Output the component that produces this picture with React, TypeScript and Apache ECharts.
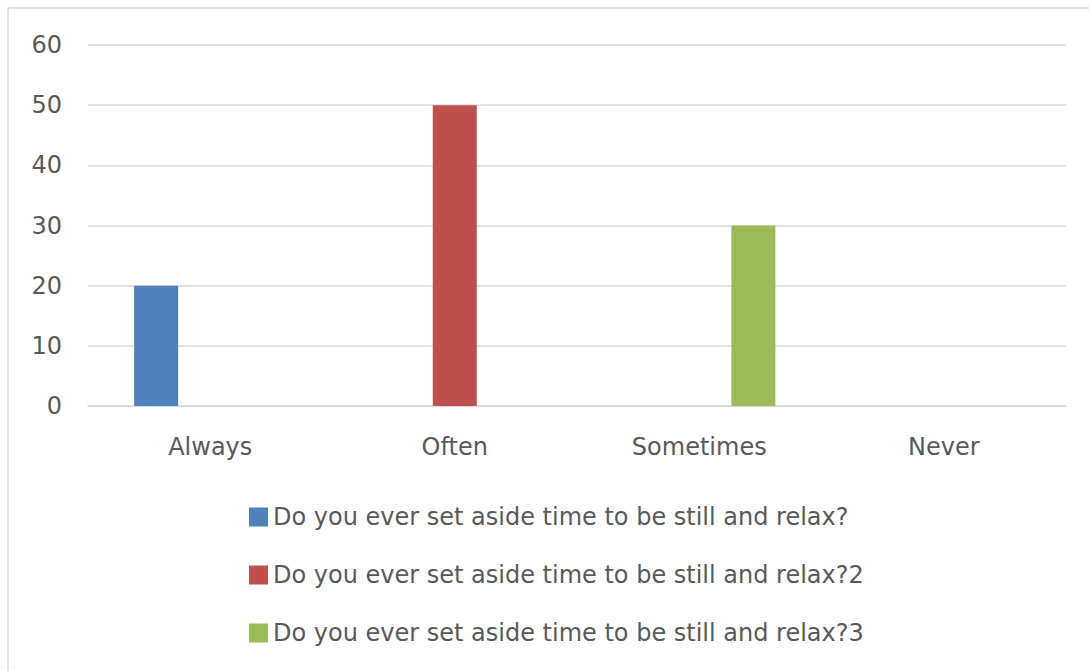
import React, { useEffect, useRef } from "react";
import * as echarts from "echarts";

const categories = ["Always", "Often", "Sometimes", "Never"];
const seriesNames = [
  "Do you ever set aside time to be still and relax?",
  "Do you ever set aside time to be still and relax?2",
  "Do you ever set aside time to be still and relax?3",
];
const series1 = [20, 0, 0, 0];
const series2 = [0, 50, 0, 0];
const series3 = [0, 0, 30, 0];
const yTicks = { min: 0, max: 60, interval: 10 };

const colors = ["#4f81bd", "#c0504d", "#9bbb59"];
const fontFamily = "'DejaVu Sans', 'Open Sans', sans-serif";

export default function App() {
  const ref = useRef<HTMLDivElement>(null);

  useEffect(() => {
    if (!ref.current) return;
    const chart = echarts.init(ref.current, null, { renderer: "svg" });
    const values = [series1, series2, series3];
    chart.setOption({
      animation: false,
      color: colors,
      textStyle: { fontFamily },
      graphic: [
        {
          type: "rect",
          shape: { x: 8, y: 8, width: 1100, height: 700 },
          style: { fill: "none", stroke: "#d9d9d9", lineWidth: 1.5 },
          silent: true,
        },
      ],
      grid: { left: 88, right: 23, top: 45, bottom: 265, containLabel: false },
      legend: {
        orient: "vertical",
        left: 249,
        top: 505,
        padding: 0,
        itemWidth: 19,
        itemHeight: 19,
        itemGap: 34,
        icon: "rect",
        textStyle: { fontSize: 24, color: "#595959", fontFamily },
        data: seriesNames,
      },
      xAxis: {
        type: "category",
        data: categories,
        axisLine: { show: true, lineStyle: { color: "#d9d9d9", width: 1.5 } },
        axisTick: { show: false },
        axisLabel: { fontSize: 24, color: "#595959", margin: 29 },
      },
      yAxis: {
        type: "value",
        min: yTicks.min,
        max: yTicks.max,
        interval: yTicks.interval,
        axisLine: { show: false },
        axisTick: { show: false },
        splitLine: { lineStyle: { color: "#d9d9d9", width: 1.5 } },
        axisLabel: { fontSize: 24, color: "#595959", margin: 26 },
      },
      series: seriesNames.map((name, i) => ({
        name,
        type: "bar",
        data: values[i],
        barWidth: 44,
        barGap: "23%",
      })),
    });
    return () => chart.dispose();
  }, []);

  return (
    <div
      ref={ref}
      style={{ position: "absolute", left: 0, top: 0, width: 1089, height: 671 }}
    />
  );
}
